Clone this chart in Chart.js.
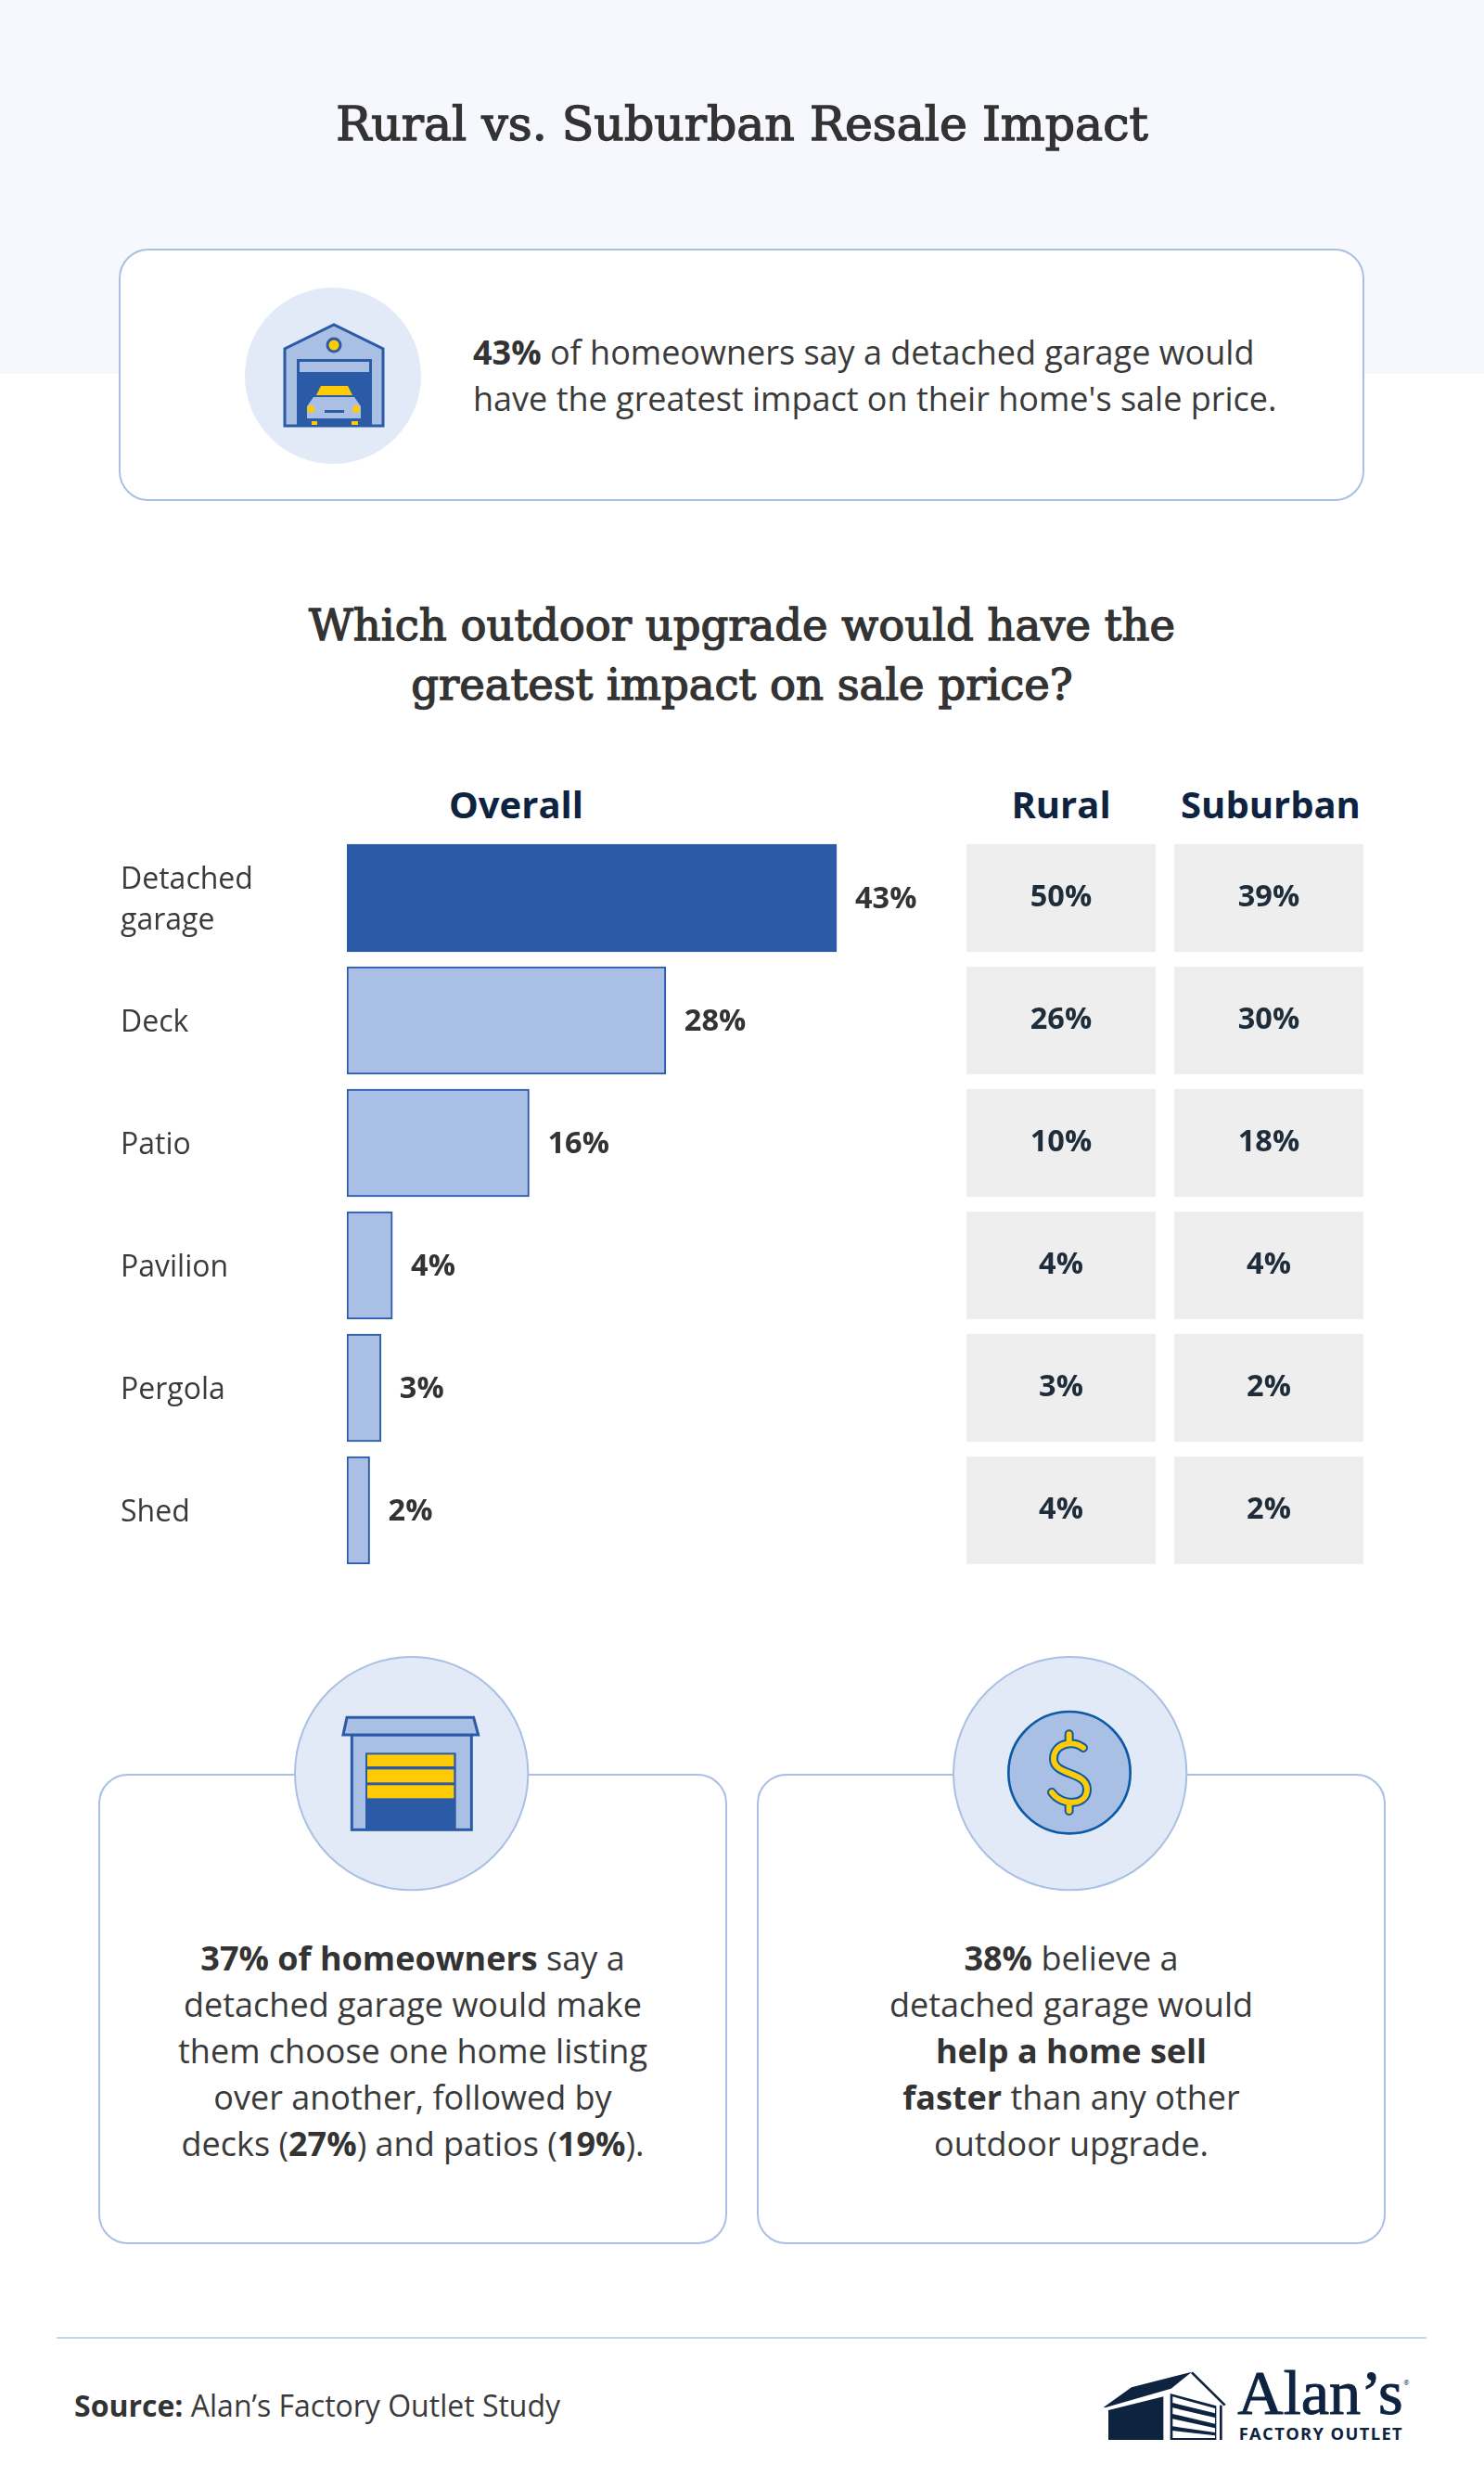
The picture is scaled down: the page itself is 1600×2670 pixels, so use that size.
<!DOCTYPE html>
<html>
<head>
<meta charset="utf-8">
<title>Rural vs. Suburban Resale Impact</title>
<script src="https://cdn.jsdelivr.net/npm/chart.js@4/dist/chart.umd.min.js"></script>
<style>
  html, body { margin: 0; padding: 0; background: #fff; }
  #page { position: relative; width: 1600px; height: 2670px; overflow: hidden; font-family: "Open Sans", sans-serif; color: #3a3a3a; }
  #page > * { position: absolute; }
  .hero { left: 0; top: 0; width: 1600px; height: 403px; background: #f6f8fe; }
  .heading { left: 0; width: 1600px; text-align: center; font-family: "DejaVu Serif", serif; font-weight: 400; color: #333; -webkit-text-stroke: 1.4px #333; }
  .card { background: #fff; border: 2px solid #a9c0e4; border-radius: 32px; box-sizing: border-box; }
  .body { font-size: 36px; line-height: 50px; }
  .body b { color: #333; }
  .centered { text-align: center; }
  .colhead { font-size: 40px; font-weight: 700; color: #0d2340; text-align: center; line-height: 50px; }
  canvas { display: block; }
</style>
</head>
<body>
<div id="page">
  <div class="hero"></div>
  <div class="heading" style="top:98px;font-size:50.5px;line-height:72px">Rural vs. Suburban Resale Impact</div>

  <div class="card" style="left:128px;top:268px;width:1343px;height:272px"></div>
  <svg style="left:0;top:0" width="800" height="600" viewBox="0 0 800 600">
    <circle cx="359" cy="405" r="95" fill="#e3eaf7"/>
    <path d="M307 459V376L360 350L413 376V459Z" fill="#a9c0e4" stroke="#2b5ba6" stroke-width="3"/>
    <ellipse cx="360" cy="372" rx="7" ry="7" fill="#ffcb05" stroke="#2b5ba6" stroke-width="3"/>
    <rect x="320" y="387" width="81" height="72" fill="#2b5ba6"/>
    <rect x="323" y="390" width="75" height="11" fill="#a9c0e4"/>
    <path d="M346 416H375L380 426H341Z" fill="#ffcb05"/>
    <path d="M338 428H382L389 438V451H331V438Z" fill="#a9c0e4"/>
    <circle cx="335" cy="441" r="4" fill="#ffcb05"/>
    <circle cx="384" cy="441" r="4" fill="#ffcb05"/>
    <rect x="350" y="442" width="21" height="3" fill="#2b5ba6"/>
    <rect x="336" y="454" width="6" height="4" fill="#ffcb05"/>
    <rect x="379" y="454" width="7" height="4" fill="#ffcb05"/>
  </svg>
  <div class="body" style="left:510px;top:355px;white-space:nowrap"><b>43%</b> of homeowners say a detached garage would<br>have the greatest impact on their home's sale price.</div>

  <div class="heading" style="top:642px;font-size:46.5px;line-height:64px">Which outdoor upgrade would have the<br>greatest impact on sale price?</div>

  <div id="headOverall" class="colhead" style="left:374px;top:842px;width:365px"></div>
  <div id="headRural" class="colhead" style="left:1042px;top:842px;width:204px"></div>
  <div id="headSuburban" class="colhead" style="left:1268px;top:842px;width:204px"></div>

  <canvas id="upgradeChart" style="left:0;top:902px"></canvas>

  <div class="card" style="left:106px;top:1912px;width:678px;height:507px"></div>
  <div class="card" style="left:816px;top:1912px;width:678px;height:507px"></div>

  <svg style="left:290px;top:1760px" width="300" height="300" viewBox="0 0 900 900">
    <circle cx="461" cy="455" r="377" fill="#e3eaf7" stroke="#a9c0e4" stroke-width="6"/>
    <rect x="268" y="330" width="387" height="307" fill="#a9c0e4" stroke="#2b5ba6" stroke-width="9"/>
    <path d="M252 274H662L677 330H240Z" fill="#a9c0e4" stroke="#2b5ba6" stroke-width="9"/>
    <rect x="312" y="388" width="293" height="250" fill="#2b5ba6"/>
    <rect x="318" y="394" width="280" height="38" fill="#ffcb05"/>
    <rect x="318" y="442" width="280" height="42" fill="#ffcb05"/>
    <rect x="318" y="493" width="280" height="42" fill="#ffcb05"/>
  </svg>
  <svg style="left:1000px;top:1760px" width="300" height="300" viewBox="0 0 900 900">
    <circle cx="461" cy="455" r="377" fill="#e3eaf7" stroke="#a9c0e4" stroke-width="6"/>
    <circle cx="459" cy="452" r="197" fill="#a9c0e4" stroke="#0b5aa8" stroke-width="8"/>
    <g fill="none" stroke-linecap="round" stroke-linejoin="round">
      <path d="M504 372C470 345 408 358 408 408C408 462 516 448 516 506C516 560 434 562 402 516M458 328V354M458 552V576" stroke="#0b5aa8" stroke-width="30"/>
      <path d="M504 372C470 345 408 358 408 408C408 462 516 448 516 506C516 560 434 562 402 516M458 328V354M458 552V576" stroke="#ffcb05" stroke-width="18"/>
    </g>
  </svg>

  <div class="body centered" style="left:106px;top:2086px;width:678px"><b>37% of homeowners</b> say a<br>detached garage would make<br>them choose one home listing<br>over another, followed by<br>decks (<b>27%</b>) and patios (<b>19%</b>).</div>
  <div class="body centered" style="left:816px;top:2086px;width:678px"><b>38%</b> believe a<br>detached garage would<br><b>help a home sell<br>faster</b> than any other<br>outdoor upgrade.</div>

  <div style="left:61px;top:2519px;width:1477px;height:2px;background:#c6d5f0"></div>
  <div style="left:80px;top:2573px;font-size:32px;line-height:40px;white-space:nowrap"><b style="color:#333">Source:</b> Alan’s Factory Outlet Study</div>

  <svg style="left:1150px;top:2500px" width="400" height="170" viewBox="0 0 1200 510">
    <g fill="#0d2340">
      <path d="M120 284L210 220L405 170L338 224L124 286Z"/>
      <path d="M135 294L313 250V390H135Z"/>
      <path d="M335 240L484 280V390H335Z"/>
    </g>
    <path d="M405 172L512 278" stroke="#0d2340" stroke-width="8" fill="none"/>
    <path d="M499 278V390" stroke="#0d2340" stroke-width="8" fill="none"/>
    <g fill="#fff">
      <path d="M343 250L480 288V304L343 270Z"/>
      <path d="M343 286L480 318V338L343 306Z"/>
      <path d="M343 322L480 352V366L343 346Z"/>
      <path d="M343 360L480 376V384H343Z"/>
    </g>
    <text x="553" y="306" font-family="Liberation Serif" font-size="200" font-weight="400" fill="#0d2340" stroke="#0d2340" stroke-width="3" textLength="535" lengthAdjust="spacingAndGlyphs">Alan’s</text>
    <text x="1090" y="212" font-family="Open Sans" font-size="22" fill="#0d2340">®</text>
    <text x="557" y="390" font-family="Open Sans" font-size="55" font-weight="700" fill="#0d2340" textLength="528">FACTORY OUTLET</text>
  </svg>
</div>

<script>
// survey results, percent of homeowners
const categories = [['Detached', 'garage'], 'Deck', 'Patio', 'Pavilion', 'Pergola', 'Shed'];
const overall = [43, 28, 16, 4, 3, 2];
const rural = [50, 26, 10, 4, 3, 4];
const suburban = [39, 30, 18, 4, 2, 2];
const columnTitles = ['Overall', 'Rural', 'Suburban'];

const darkBlue = '#2b5ba6';
const lightBlue = '#aabfe6';

document.getElementById('headOverall').textContent = columnTitles[0];
document.getElementById('headRural').textContent = columnTitles[1];
document.getElementById('headSuburban').textContent = columnTitles[2];

// percent labels beside the bars plus the two grey side columns
const sideTable = {
    id: 'sideTable',
    afterDatasetsDraw(chart) {
        const ctx = chart.ctx;
        const yScale = chart.scales.y;
        const xScale = chart.scales.x;
        const barHeight = chart.getDatasetMeta(0).data[0].height;
        const columns = [
            { x: 1042, width: 204, values: rural },
            { x: 1266, width: 204, values: suburban }
        ];

        ctx.save();
        ctx.font = '700 32.5px "Open Sans"';
        ctx.textBaseline = 'middle';

        ctx.fillStyle = '#333';
        ctx.textAlign = 'left';
        overall.forEach(function(v, i) {
            ctx.fillText(v + '%', xScale.getPixelForValue(v) + 20, yScale.getPixelForValue(i) + 2);
        });

        ctx.textAlign = 'center';
        columns.forEach(function(col) {
            col.values.forEach(function(v, i) {
                const cy = yScale.getPixelForValue(i);
                ctx.fillStyle = '#eeeeee';
                ctx.fillRect(col.x, cy - barHeight / 2, col.width, barHeight);
                ctx.fillStyle = '#1f2d3a';
                ctx.fillText(v + '%', col.x + col.width / 2, cy);
            });
        });
        ctx.restore();
    }
};

const canvas = document.getElementById('upgradeChart');
canvas.width = 1600;
canvas.height = 792;

new Chart(canvas.getContext('2d'), {
    type: 'bar',
    data: {
        labels: categories,
        datasets: [{
            label: columnTitles[0],
            data: overall,
            backgroundColor: overall.map((v, i) => i === 0 ? darkBlue : lightBlue),
            borderColor: darkBlue,
            borderWidth: 2,
            borderSkipped: false,
            barThickness: 116
        }]
    },
    options: {
        indexAxis: 'y',
        responsive: false,
        animation: false,
        layout: { padding: { left: 130, right: 612, top: 0, bottom: 0 } },
        plugins: {
            legend: { display: false },
            tooltip: { enabled: false }
        },
        scales: {
            x: { display: false, min: 0, max: 50 },
            y: {
                // fixed label column, no extra room for the two-line tick
                afterFit: function(scale) {
                    scale.width = 244;
                    scale.paddingTop = 0;
                    scale.paddingBottom = 0;
                },
                border: { display: false },
                grid: { display: false },
                ticks: {
                    crossAlign: 'far',
                    padding: 0,
                    labelOffset: 3,
                    color: '#3a3a3a',
                    font: { family: '"Open Sans"', size: 32, lineHeight: 1.38 }
                }
            }
        }
    },
    plugins: [sideTable]
});
</script>
</body>
</html>
